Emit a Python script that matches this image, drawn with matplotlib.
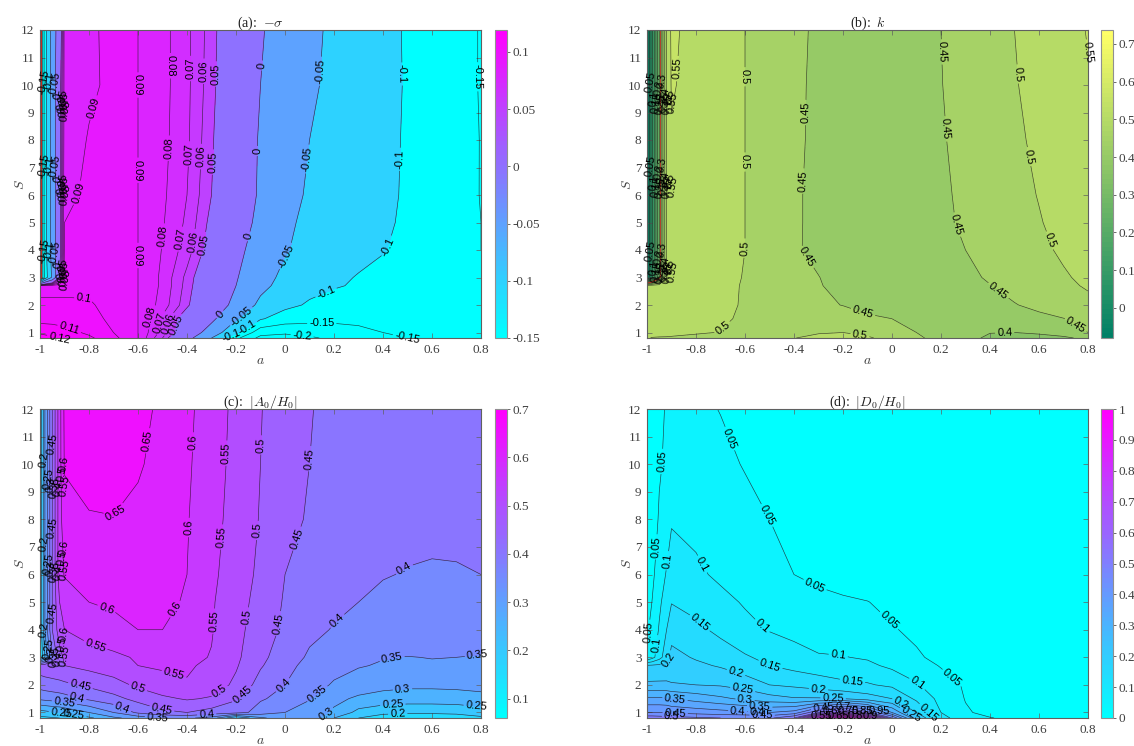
import numpy as np
import matplotlib
matplotlib.use('Agg')
import matplotlib.pyplot as plt
from matplotlib.cm import ScalarMappable
from matplotlib.colors import Normalize

plt.rcParams['font.family'] = 'Liberation Sans'
plt.rcParams['mathtext.fontset'] = 'cm'

a_grid = [-1, -0.98, -0.95, -0.92, -0.9, -0.8, -0.7, -0.6, -0.5, -0.4, -0.3,
          -0.2, -0.1, 0, 0.1, 0.2, 0.3, 0.4, 0.5, 0.6, 0.7, 0.8]
s_grid = [0.8, 1, 1.5, 2, 2.7, 3, 4, 5, 6, 8, 10, 12]

sigma = [
    [.125, .124, .122, .12, .118, .112, .103, .09, .06, .016, -.05, -.138, -.215, -.225, -.21, -.185, -.17, -.158, -.15, -.148, -.146, -.145],
    [.118, .117, .116, .115, .114, .108, .1, .09, .066, .032, -.022, -.088, -.18, -.19, -.18, -.17, -.158, -.15, -.147, -.145, -.144, -.143],
    [.106, .106, .106, .105, .105, .103, .098, .09, .068, .038, .01, -.045, -.095, -.125, -.135, -.14, -.142, -.144, -.145, -.145, -.145, -.145],
    [.102, .102, .102, .102, .102, .101, .097, .09, .076, .053, .022, -.01, -.062, -.087, -.106, -.12, -.13, -.137, -.14, -.143, -.145, -.146],
    [.097, .097, .097, .097, .097, .098, .095, .09, .078, .056, .03, 0, -.037, -.067, -.085, -.096, -.105, -.118, -.13, -.138, -.144, -.147],
    [-.3, -.13, -.04, .05, .094, .097, .095, .09, .078, .057, .032, .003, -.03, -.062, -.08, -.093, -.102, -.115, -.128, -.137, -.144, -.148],
    [-.3, -.12, -.03, .04, .092, .095, .094, .09, .0795, .065, .042, .012, -.02, -.046, -.067, -.08, -.09, -.097, -.115, -.13, -.14, -.15],
    [-.3, -.12, -.03, .04, .09, .093, .093, .09, .081, .068, .046, .02, -.01, -.04, -.062, -.075, -.085, -.093, -.107, -.123, -.138, -.15],
    [-.3, -.12, -.03, .04, .088, .0915, .0925, .09, .082, .07, .05, .025, -.005, -.033, -.056, -.07, -.082, -.091, -.105, -.122, -.138, -.151],
    [-.3, -.12, -.03, .04, .086, .0905, .092, .09, .083, .072, .052, .029, -.004, -.027, -.05, -.064, -.078, -.09, -.104, -.12, -.137, -.151],
    [-.3, -.12, -.03, .04, .085, .0888, .0915, .09, .0835, .0725, .054, .031, 0, -.022, -.043, -.06, -.075, -.089, -.103, -.12, -.137, -.152],
    [-.3, -.12, -.03, .03, .085, .089, .0915, .09, .0835, .0725, .055, .032, .004, -.02, -.04, -.058, -.073, -.088, -.104, -.12, -.137, -.152],
]

k_vals = [
    [.505, .498, .497, .497, .496, .493, .49, .488, .49, .499, .51, .513, .507, .48, .46, .43, .41, .394, .39, .388, .393, .41],
    [.515, .515, .512, .51, .509, .503, .499, .49, .485, .49, .497, .5, .487, .466, .45, .43, .41, .401, .4, .405, .417, .45],
    [.53, .53, .53, .53, .53, .515, .505, .495, .475, .47, .47, .468, .458, .45, .44, .432, .43, .431, .434, .44, .449, .462],
    [.53, .53, .53, .53, .53, .518, .51, .496, .472, .46, .457, .449, .435, .428, .426, .428, .434, .442, .448, .46, .473, .487],
    [.53, .53, .53, .53, .53, .52, .51, .497, .472, .455, .453, .437, .428, .425, .427, .432, .44, .449, .463, .477, .49, .505],
    [-.08, .08, .3, .5, .54, .526, .512, .498, .475, .453, .451, .435, .427, .425, .428, .433, .442, .454, .468, .482, .495, .51],
    [-.08, .08, .3, .5, .54, .527, .513, .5, .477, .455, .44, .432, .428, .428, .432, .44, .45, .463, .476, .49, .507, .522],
    [-.08, .08, .3, .5, .54, .527, .514, .5, .478, .455, .441, .434, .43, .43, .435, .443, .455, .468, .482, .497, .515, .53],
    [-.08, .08, .3, .5, .54, .527, .514, .5, .478, .455, .441, .434, .431, .431, .436, .445, .456, .47, .485, .502, .52, .535],
    [-.08, .08, .3, .5, .545, .53, .515, .5, .478, .456, .443, .436, .433, .434, .44, .447, .46, .475, .491, .51, .526, .542],
    [-.08, .08, .3, .5, .555, .53, .515, .5, .478, .457, .443, .437, .435, .436, .441, .449, .463, .48, .497, .515, .53, .547],
    [-.08, .08, .3, .5, .56, .53, .515, .5, .48, .457, .445, .44, .437, .438, .443, .45, .466, .483, .5, .52, .535, .552],
]

a0_h0 = [
    [.19, .19, .195, .2, .205, .24, .29, .32, .35, .36, .33, .2, .29, .33, .33, .25, .2, .17, .16, .16, .17, .19],
    [.23, .235, .245, .25, .26, .3, .35, .41, .44, .45, .43, .42, .38, .35, .335, .29, .235, .215, .21, .21, .213, .225],
    [.36, .365, .37, .375, .38, .41, .435, .465, .49, .505, .495, .455, .405, .385, .352, .315, .29, .28, .275, .275, .277, .285],
    [.42, .425, .43, .435, .44, .46, .48, .51, .533, .548, .525, .49, .43, .4, .37, .345, .33, .315, .31, .31, .312, .315],
    [.48, .485, .49, .495, .5, .515, .53, .55, .556, .553, .545, .505, .455, .415, .385, .365, .353, .346, .344, .346, .346, .349],
    [.15, .25, .4, .48, .51, .53, .54, .555, .562, .56, .548, .51, .462, .425, .393, .375, .36, .352, .349, .351, .35, .347],
    [.15, .3, .45, .53, .55, .57, .585, .6, .6, .585, .553, .515, .475, .44, .412, .397, .385, .38, .377, .375, .377, .38],
    [.15, .3, .45, .55, .575, .6, .607, .61, .607, .597, .555, .52, .483, .445, .42, .41, .4, .392, .388, .386, .387, .39],
    [.15, .3, .45, .58, .603, .62, .628, .625, .615, .6, .56, .525, .49, .45, .425, .423, .413, .402, .398, .396, .397, .4],
    [.15, .3, .45, .58, .63, .645, .648, .64, .625, .603, .568, .53, .497, .465, .445, .435, .425, .417, .412, .41, .41, .41],
    [.15, .3, .45, .58, .655, .675, .675, .655, .635, .607, .572, .535, .5, .47, .45, .44, .43, .422, .418, .415, .414, .413],
    [.15, .3, .45, .58, .66, .68, .68, .665, .64, .61, .577, .537, .502, .475, .452, .44, .432, .425, .42, .417, .416, .415],
]

d0_h0 = [
    [.53, .53, .525, .52, .52, .51, .5, .5, .49, .55, .85, 1, .85, .5, .25, .12, .065, .052, .04, .025, .012, .006],
    [.45, .45, .45, .45, .44, .43, .42, .41, .4, .42, .55, .62, .52, .35, .2, .1, .055, .038, .025, .016, .009, .005],
    [.36, .36, .36, .355, .35, .33, .31, .29, .27, .255, .255, .25, .225, .2, .14, .085, .048, .03, .02, .013, .008, .004],
    [.26, .26, .26, .26, .255, .25, .245, .23, .2, .19, .175, .16, .155, .14, .105, .07, .045, .028, .018, .011, .007, .004],
    [.205, .207, .21, .212, .215, .21, .195, .17, .15, .135, .125, .122, .11, .09, .07, .047, .03, .018, .012, .008, .005, .003],
    [.05, .08, .13, .18, .215, .195, .172, .155, .138, .12, .104, .102, .095, .08, .055, .04, .026, .017, .011, .007, .004, .002],
    [.045, .06, .105, .15, .18, .16, .14, .115, .097, .085, .077, .07, .062, .053, .042, .03, .02, .013, .009, .006, .004, .002],
    [.04, .05, .09, .125, .148, .135, .115, .095, .08, .07, .062, .056, .051, .04, .03, .022, .015, .01, .007, .005, .003, .002],
    [.03, .04, .07, .105, .125, .11, .09, .075, .063, .05, .04, .032, .027, .02, .015, .012, .009, .007, .005, .004, .003, .002],
    [.02, .035, .053, .07, .095, .085, .072, .06, .05, .04, .03, .024, .02, .016, .013, .01, .008, .006, .005, .004, .003, .002],
    [.02, .03, .047, .055, .06, .065, .058, .048, .038, .03, .025, .02, .017, .013, .011, .009, .007, .006, .005, .004, .003, .002],
    [.02, .03, .045, .052, .056, .057, .049, .04, .033, .027, .022, .018, .015, .012, .01, .008, .007, .006, .005, .004, .003, .002],
]

levels_a = [-.6, -.2, -.15, -.1, -.05, 0, .05, .06, .07, .08, .09, .1, .11, .12, .14]
levels_b = [-.3, -.05, 0, .05, .1, .15, .2, .25, .3, .35, .4, .45, .5, .55, .6, .7]
levels_c = [.05, .1, .15, .2, .25, .3, .35, .4, .45, .5, .55, .6, .65, .7]
levels_d = [0, .05, .1, .15, .2, .25, .3, .35, .4, .45, .5, .55, .6, .65, .7, .75, .8, .85, .9, .95, 1.01]

ticks_a = [-.15, -.1, -.05, 0, .05, .1]
ticks_b = [0, .1, .2, .3, .4, .5, .6, .7]
ticks_c = [.1, .2, .3, .4, .5, .6, .7]
ticks_d = [0, .1, .2, .3, .4, .5, .6, .7, .8, .9, 1]

# where the contour labels sit, (a, S)
labels_a = [(-.6, 10), (-.6, 6.9), (-.6, 3.8), (-.79, 9.2), (-.87, 6.1),
            (-.455, 10.7), (-.47, 7.7), (-.49, 4.5), (-.535, 1.5),
            (-.39, 10.6), (-.41, 7.5), (-.43, 4.4), (-.5, 1.35),
            (-.33, 10.5), (-.35, 7.4), (-.37, 4.3), (-.47, 1.3),
            (-.28, 10.4), (-.3, 7.2), (-.33, 4.2), (-.43, 1.25),
            (-.08, 10.7), (-.115, 7.6), (-.15, 4.5), (-.27, 1.7),
            (.15, 10.5), (.1, 7.3), (.0, 3.8), (-.18, 1.6),
            (.475, 10.4), (.465, 7.3), (.43, 4.1), (.175, 2.3), (-.16, 1.27),
            (.79, 10.3), (.15, 1.2), (.5, .87), (-.22, .92), (.07, .9),
            (-.82, 2.45), (-.87, 1.4), (-.88, .95)]
labels_b = [(-.61, 10.3), (-.61, 7.2), (-.61, 4.07), (-.69, 1.15),
            (-.345, 9), (-.34, 6.5), (-.32, 3.9), (-.12, 1.7),
            (.19, 11.2), (.215, 8.4), (.257, 4.9), (.43, 2.47), (.75, 1.27),
            (.51, 10.4), (.56, 7.4), (.63, 4.3), (-.13, .95),
            (.46, .95), (.79, 10.7), (-.886, 10.6)]
labels_c = [(-.56, 10.85), (-.69, 8.2),
            (-.36, 10.8), (-.38, 7.7), (-.44, 4.7), (-.735, 4.6),
            (-.237, 10.4), (-.245, 7.35), (-.27, 4.3), (-.46, 2.18), (-.775, 3.4),
            (-.1, 10.7), (-.115, 7.6), (-.143, 4.45), (-.265, 1.75), (-.6, 1.9),
            (.1, 10.2), (.05, 7.3), (-.008, 4.2), (-.165, 1.55), (-.5, 1.2), (-.83, 2.17),
            (.48, 6.3), (.22, 4.25), (.0, 1.9), (-.66, 1.27), (-.32, .98),
            (.44, 2.8), (.79, 2.7), (.13, 1.7), (-.85, 1.5), (-.52, .85),
            (.48, 1.8), (.16, 1.05), (-.9, 1.38),
            (.44, 1.27), (.78, 1.16), (-.86, 1.0),
            (.46, .98), (-.9, .9)]
labels_d = [(-.67, 10.9), (-.53, 8.05), (-.31, 5.7), (-.01, 4.35), (.23, 2.1),
            (-.94, 10.1), (-.96, 7), (-.98, 3.9),
            (-.915, 6.5), (-.77, 6.4), (-.54, 4.05), (-.22, 3), (.09, 1.9), (-.955, 3.45),
            (-.8, 4.1), (-.5, 2.6), (-.16, 2.25), (.16, 1.1),
            (-.92, 2.95), (-.64, 2.36), (-.3, 1.85), (.04, 1.4),
            (-.61, 1.8), (-.24, 1.6), (.08, .98),
            (-.6, 1.45), (-.885, 1.55), (-.54, 1.2),
            (-.63, 1.0), (-.28, 1.2), (-.885, .98), (-.53, .9), (-.9, .85), (-.55, .85)]

# labels packed against the left edge, text with offset from each group's S
groups_s = [10, 6.95, 3.85]
packed_a = [('-0.15', -.985, .1), ('-0.1', -.962, .1), ('-0.05', -.94, .05), ('0', -.925, -.4),
            ('0.05', -.91, -.55), ('0.06', -.905, -.65), ('0.07', -.9, -.8), ('0.08', -.895, -.95)]
packed_b = [('0.05', -.985, .1), ('0.1', -.97, -.5), ('0.15', -.96, -.65), ('0.2', -.95, -.1),
            ('0.25', -.945, -.7), ('0.3', -.94, .15), ('0.35', -.93, -.6), ('0.4', -.925, -.35),
            ('0.45', -.915, -.7), ('0.5', -.905, -.45), ('0.55', -.895, -.65)]
packed_c = [('0.2', -.985, .15), ('0.25', -.965, -.55), ('0.3', -.955, -.75), ('0.35', -.94, -.85),
            ('0.4', -.925, -.9), ('0.45', -.95, .75), ('0.5', -.91, -.35), ('0.55', -.9, -.8), ('0.6', -.9, .0)]
packed_d = [('0.55', -.29, .88), ('0.6', -.25, 1.06), ('0.65', -.22, .88), ('0.7', -.2, 1.2),
            ('0.75', -.18, 1.04), ('0.8', -.15, .88), ('0.85', -.12, 1.04), ('0.9', -.09, .88), ('0.95', -.05, 1.04)]

fig = plt.figure(figsize=(11.34, 7.46), dpi=100)
W, H = 1134.0, 746.0
AXC = '#606060'


def make_axes(l, t, r, b):
    return fig.add_axes([l / W, 1 - b / H, (r - l) / W, (b - t) / H])


def draw_panel(box, cbox, z, levels, cmap_name, vmin, vmax, ticks, title, lab_pts,
               packed, packed_at, packed_rot=80, red_level=None, red_width=1.0):
    ax = make_axes(*box)
    cax = make_axes(*cbox)
    z = np.array(z)
    cmap = plt.get_cmap(cmap_name, 64)
    norm = Normalize(vmin, vmax)
    # every band takes the colour of its lower level
    band_cols = [cmap(norm(v)) for v in levels[:-1]]
    ax.contourf(a_grid, s_grid, z, levels=levels, colors=band_cols)
    cs = ax.contour(a_grid, s_grid, z, levels=levels, colors='#1a1a1a', linewidths=0.45,
                    alpha=0.8, negative_linestyles='solid')
    if red_level is not None:
        ax.contour(a_grid, s_grid, z, levels=[red_level], colors='#c8281e', linewidths=red_width,
                   negative_linestyles='solid')
    ax.clabel(cs, manual=lab_pts, inline=True, inline_spacing=2, fontsize=8, fmt='%g')
    for t in cs.labelTexts:
        t.set_clip_on(False)
        t.set_alpha(1)
        t.set_color('black')
    for txt, xp, ds in packed:
        for s0 in packed_at:
            ax.text(xp, s0 + ds, txt, rotation=packed_rot, fontsize=8, ha='center', va='center')

    ax.set_xlim(-1, .8)
    ax.set_ylim(.8, 12)
    ax.set_xticks(np.arange(-1, .81, .2))
    ax.set_xticklabels(['-1', '-0.8', '-0.6', '-0.4', '-0.2', '0', '0.2', '0.4', '0.6', '0.8'],
                       family='Liberation Serif', fontsize=9.5, color='#404040')
    ax.set_yticks(range(1, 13))
    ax.set_yticklabels([str(v) for v in range(1, 13)],
                       family='Liberation Serif', fontsize=9.5, color='#404040')
    ax.tick_params(direction='in', length=3.5, width=0.5, color=AXC, top=True, right=True, pad=4)
    for sp in ax.spines.values():
        sp.set_color(AXC)
        sp.set_linewidth(0.8)
    ax.set_xlabel('$a$', fontsize=10, color='#404040', labelpad=-1.5)
    ax.set_ylabel('$S$', fontsize=10, color='#404040', labelpad=-4)
    ax.set_title(title, fontsize=10, family='Liberation Serif', pad=2.5, color='#202020')

    cb = fig.colorbar(ScalarMappable(norm=norm, cmap=cmap), cax=cax)
    cb.set_ticks(ticks)
    cb.set_ticklabels(['%g' % v for v in ticks], family='Liberation Serif', fontsize=9.5, color='#404040')
    cb.ax.tick_params(length=2.5, width=0.5, pad=1.5, color='#303030')
    cb.outline.set_edgecolor('#909090')
    cb.outline.set_linewidth(0.8)


draw_panel((40, 30, 481, 338), (495, 30, 507, 338), sigma, levels_a, 'cool', -.15, .119,
           ticks_a, r'(a):  $-\sigma$', labels_a, packed_a, groups_s, red_level=-.25)
draw_panel((647, 30, 1088, 338), (1101, 30, 1113, 338), k_vals, levels_b, 'summer', -.08, .737,
           ticks_b, r'(b):  $k$', labels_b, packed_b, groups_s, red_level=.33, red_width=0.6)
draw_panel((40, 409, 481, 718), (495, 409, 507, 718), a0_h0, levels_c, 'cool', .06, .7,
           ticks_c, r'(c):  $|A_0/H_0|$', labels_c, packed_c, groups_s)
draw_panel((647, 409, 1088, 718), (1101, 409, 1113, 718), d0_h0, levels_d, 'cool', 0, 1,
           ticks_d, r'(d):  $|D_0/H_0|$', labels_d, packed_d, [0], packed_rot=0)

plt.savefig('out.png', dpi=100)
